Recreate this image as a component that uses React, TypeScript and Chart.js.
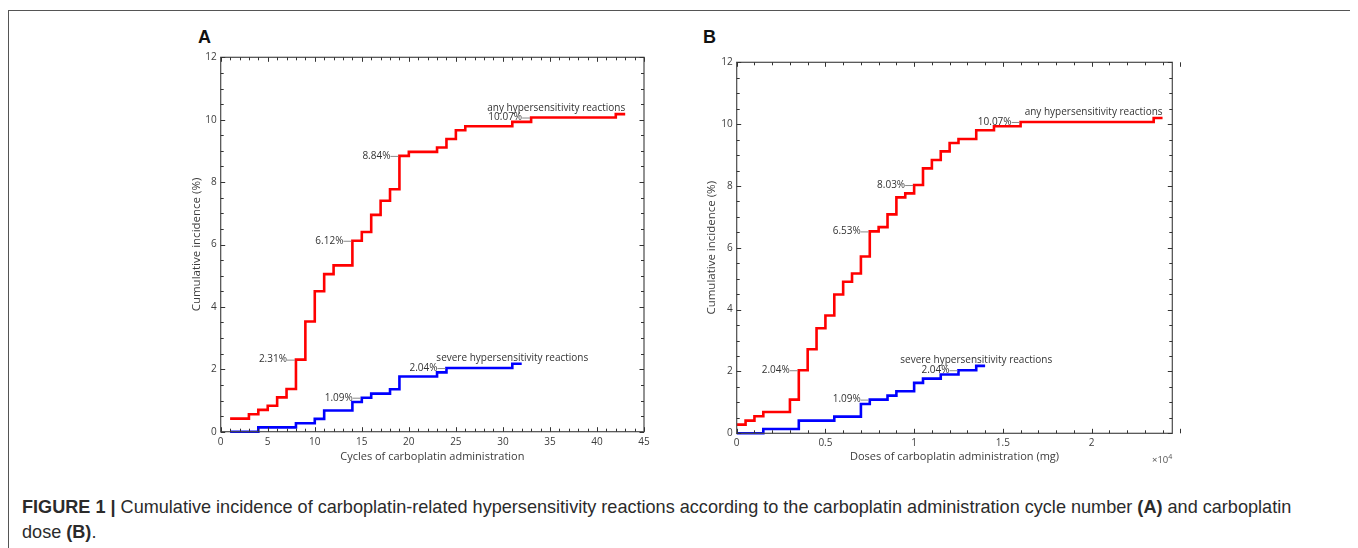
import React, { useEffect, useRef } from 'react';
import { Chart, registerables } from 'chart.js';

Chart.register(...registerables);
Chart.defaults.font.family = '"Open Sans", "DejaVu Sans", sans-serif';

// ---------- Panel A: by cycle number ----------
const cyclesAny = [1, 3, 4, 5, 6, 7, 8, 9, 10, 11, 12, 14, 15, 16, 17, 18, 19, 20, 23, 24, 25, 26, 31, 33, 42, 43];
const incidenceAnyByCycle = [0.42, 0.56, 0.7, 0.83, 1.1, 1.37, 2.31, 3.53, 4.5, 5.05, 5.33, 6.12, 6.4, 6.95, 7.4, 7.77, 8.84, 8.97, 9.11, 9.38, 9.66, 9.79, 9.93, 10.07, 10.18, 10.18];
const cyclesSevere = [1, 4, 8, 10, 11, 14, 15, 16, 18, 19, 23, 24, 31, 32];
const incidenceSevereByCycle = [0, 0.14, 0.27, 0.41, 0.68, 0.95, 1.09, 1.22, 1.36, 1.77, 1.9, 2.04, 2.18, 2.18];
const calloutsAnyByCycle = [6, 11, 16, 23];
const calloutsSevereByCycle = [6, 11];
const cycleTicks = [0, 5, 10, 15, 20, 25, 30, 35, 40, 45];

// ---------- Panel B: by cumulative dose (mg) ----------
const dosesAny = [0, 500, 1000, 1500, 3000, 3500, 4000, 4500, 5000, 5500, 6000, 6500, 7000, 7500, 8000, 8500, 9000, 9500, 10000, 10500, 11000, 11500, 12000, 12500, 13500, 14500, 16000, 23500, 24000];
const incidenceAnyByDose = [0.28, 0.41, 0.55, 0.69, 1.09, 2.04, 2.72, 3.4, 3.81, 4.49, 4.9, 5.17, 5.72, 6.53, 6.67, 7.08, 7.63, 7.76, 8.03, 8.57, 8.84, 9.12, 9.39, 9.52, 9.8, 9.93, 10.07, 10.2, 10.2];
const dosesSevere = [0, 1500, 3500, 5500, 7000, 7500, 8500, 9000, 10000, 10500, 11500, 12500, 13500, 14000];
const incidenceSevereByDose = [0, 0.14, 0.41, 0.54, 0.95, 1.09, 1.22, 1.36, 1.63, 1.77, 1.9, 2.04, 2.18, 2.18];
const calloutsAnyByDose = [5, 13, 18, 26];
const calloutsSevereByDose = [5, 11];
const doseTicks = [0, 5000, 10000, 15000, 20000];

const incidenceTicks = [0, 2, 4, 6, 8, 10, 12];

const anyLabel = 'any hypersensitivity reactions';
const severeLabel = 'severe hypersensitivity reactions';

const TEXT = '#333';
const FONT = '"Open Sans", "DejaVu Sans", sans-serif';

const boxTicksPlugin = {
  id: 'boxTicks',
  afterDatasetsDraw(chart: any, _args: any, opts: any) {
    const { ctx } = chart;
    const xs = chart.scales.x;
    const ys = chart.scales.y;
    const L = xs.getPixelForValue(xs.min);
    const R = xs.getPixelForValue(xs.max);
    const T = ys.getPixelForValue(ys.max);
    const B = ys.getPixelForValue(ys.min);
    ctx.save();
    ctx.strokeStyle = '#4a4a4a';
    ctx.lineWidth = 1.2;
    ctx.strokeRect(L, T, R - L, B - T);
    ctx.strokeStyle = '#333';
    ctx.lineWidth = 1;
    const isMajor = (v: number, step: number) => Math.abs(v / step - Math.round(v / step)) < 1e-6;
    ctx.beginPath();
    const nx = Math.round((xs.max - xs.min) / opts.xMinor);
    for (let i = 0; i <= nx; i++) {
      const v = xs.min + i * opts.xMinor;
      const len = isMajor(v, opts.xMajor) ? 4.5 : 3;
      const px = Math.round(xs.getPixelForValue(v)) + 0.5;
      ctx.moveTo(px, B); ctx.lineTo(px, B - len);
      ctx.moveTo(px, T); ctx.lineTo(px, T + len);
    }
    const ny = Math.round((ys.max - ys.min) / opts.yMinor);
    for (let i = 0; i <= ny; i++) {
      const v = ys.min + i * opts.yMinor;
      const len = isMajor(v, opts.yMajor) ? 4.5 : 3;
      const py = Math.round(ys.getPixelForValue(v)) + 0.5;
      ctx.moveTo(L, py); ctx.lineTo(L + len, py);
      ctx.moveTo(R, py); ctx.lineTo(R - len, py);
    }
    ctx.stroke();

    // callouts: "value%" text with a short grey leader to the step
    ctx.font = `10px ${FONT}`;
    ctx.textBaseline = 'middle';
    (opts.callouts || []).forEach((c: any) => {
      const d: any = chart.data.datasets[c.ds].data[c.index];
      const px = xs.getPixelForValue(d.x);
      const py = ys.getPixelForValue(d.y);
      const text = d.y.toFixed(2) + '%';
      ctx.fillStyle = TEXT;
      ctx.textAlign = 'right';
      ctx.fillText(text, px - 9, py);
      ctx.strokeStyle = '#8a8a8a';
      ctx.lineWidth = 1;
      ctx.beginPath();
      ctx.moveTo(px - 9, py + 0.5);
      ctx.lineTo(px - 1, py + 0.5);
      ctx.stroke();
    });

    // series labels
    const anyData: any[] = chart.data.datasets[0].data as any[];
    const sevData: any[] = chart.data.datasets[1].data as any[];
    const lastAny = anyData[anyData.length - 1];
    ctx.fillStyle = TEXT;
    ctx.textAlign = 'right';
    ctx.fillText(anyLabel, xs.getPixelForValue(lastAny.x), ys.getPixelForValue(lastAny.y) - 6);
    const lastSev = sevData[sevData.length - 1];
    const prevSev = sevData[sevData.length - 2];
    ctx.textAlign = 'center';
    ctx.fillText(severeLabel, xs.getPixelForValue(prevSev.x), ys.getPixelForValue(lastSev.y) - 5.5);

    if (opts.exponent) {
      ctx.textAlign = 'right';
      ctx.textBaseline = 'alphabetic';
      ctx.fillStyle = '#555';
      ctx.font = `7px ${FONT}`;
      ctx.fillText('4', R, B + 26);
      const w4 = ctx.measureText('4').width;
      ctx.font = `9.5px ${FONT}`;
      ctx.fillText('\u00d710', R - w4, B + 30);
    }
    ctx.restore();
  },
};

interface PanelCfg {
  anyX: number[]; anyY: number[]; sevX: number[]; sevY: number[];
  anyCallouts: number[]; sevCallouts: number[];
  xTicks: number[]; xMax: number; xMinor: number; xMajor: number;
  xTitle: string; xFmt: (v: number) => string;
  width: number; height: number;
  padTop: number; padRight: number; yAxisW: number; xAxisH: number;
  yTitlePad: number; xTitlePad: number; exponent: boolean;
}

function Panel({ cfg, left, top }: { cfg: PanelCfg; left: number; top: number }) {
  const ref = useRef<HTMLCanvasElement | null>(null);
  useEffect(() => {
    const chart = new Chart(ref.current as HTMLCanvasElement, {
      type: 'line',
      data: {
        datasets: [
          {
            data: cfg.anyX.map((x, i) => ({ x, y: cfg.anyY[i] })),
            borderColor: '#ff0000', borderWidth: 2.6, stepped: true, pointRadius: 0, fill: false, clip: false as any,
          },
          {
            data: cfg.sevX.map((x, i) => ({ x, y: cfg.sevY[i] })),
            borderColor: '#0000ff', borderWidth: 2.6, stepped: true, pointRadius: 0, fill: false, clip: false as any,
          },
        ],
      },
      options: {
        animation: false,
        responsive: false,
        layout: { padding: { top: cfg.padTop, right: cfg.padRight, left: 0, bottom: 0 } },
        plugins: {
          legend: { display: false },
          tooltip: { enabled: false },
          boxTicks: {
            xMinor: cfg.xMinor, xMajor: cfg.xMajor, yMinor: 0.5, yMajor: 2,
            exponent: cfg.exponent,
            callouts: [
              ...cfg.anyCallouts.map((index) => ({ ds: 0, index })),
              ...cfg.sevCallouts.map((index) => ({ ds: 1, index })),
            ],
          },
        } as any,
        scales: {
          x: {
            type: 'linear', min: 0, max: cfg.xMax,
            afterBuildTicks: (s: any) => { s.ticks = cfg.xTicks.map((v) => ({ value: v })); },
            afterFit: (s: any) => { s.height = cfg.xAxisH; },
            grid: { display: false, drawTicks: false },
            border: { display: false },
            ticks: { padding: 4, color: '#3c3c3c', font: { size: 10 }, maxRotation: 0, autoSkip: false, callback: (v: any) => cfg.xFmt(Number(v)) },
            title: { display: true, text: cfg.xTitle, color: '#3c3c3c', font: { size: 11 }, padding: { top: 0, bottom: cfg.xTitlePad } },
          },
          y: {
            type: 'linear', min: 0, max: 12,
            afterBuildTicks: (s: any) => { s.ticks = incidenceTicks.map((v) => ({ value: v })); },
            afterFit: (s: any) => { s.width = cfg.yAxisW; },
            grid: { display: false, drawTicks: false },
            border: { display: false },
            ticks: { padding: 4, color: '#3c3c3c', font: { size: 10 }, autoSkip: false },
            title: { display: true, text: 'Cumulative incidence (%)', color: '#3c3c3c', font: { size: 11.5 }, padding: { top: cfg.yTitlePad, bottom: 0 } },
          },
        },
      } as any,
      plugins: [boxTicksPlugin],
    });
    return () => chart.destroy();
  }, []);
  return (
    <div style={{ position: 'absolute', left, top, width: cfg.width, height: cfg.height }}>
      <canvas ref={ref} width={cfg.width} height={cfg.height} style={{ width: cfg.width, height: cfg.height, display: 'block' }} />
    </div>
  );
}

const panelA: PanelCfg = {
  anyX: cyclesAny, anyY: incidenceAnyByCycle, sevX: cyclesSevere, sevY: incidenceSevereByCycle,
  anyCallouts: calloutsAnyByCycle, sevCallouts: calloutsSevereByCycle,
  xTicks: cycleTicks, xMax: 45, xMinor: 1, xMajor: 5,
  xTitle: 'Cycles of carboplatin administration', xFmt: (v) => String(v),
  width: 500, height: 430, padTop: 12.3, padRight: 16, yAxisW: 60.7, xAxisH: 43.3,
  yTitlePad: 29.8, xTitlePad: 11.7, exponent: false,
};

const panelB: PanelCfg = {
  anyX: dosesAny, anyY: incidenceAnyByDose, sevX: dosesSevere, sevY: incidenceSevereByDose,
  anyCallouts: calloutsAnyByDose, sevCallouts: calloutsSevereByDose,
  xTicks: doseTicks, xMax: 24550, xMinor: 1000, xMajor: 5000,
  xTitle: 'Doses of carboplatin administration (mg)', xFmt: (v) => String(v / 10000),
  width: 510, height: 430, padTop: 17.3, padRight: 17.7, yAxisW: 56.7, xAxisH: 41.7,
  yTitlePad: 24.8, xTitlePad: 11.2, exponent: true,
};

export default function App() {
  useEffect(() => {
    document.documentElement.style.overflow = 'hidden';
    document.body.style.overflow = 'hidden';
  }, []);
  const letter: React.CSSProperties = {
    position: 'absolute', fontFamily: '"Liberation Sans", Arial, sans-serif', fontWeight: 'bold',
    fontSize: 18, lineHeight: '18px', color: '#111',
  };
  const caption: React.CSSProperties = {
    position: 'absolute', left: 14, top: 487, width: 1320,
    fontFamily: '"Liberation Sans", Arial, sans-serif', fontSize: 18.1, lineHeight: '25px', color: '#2b2b2b',
    whiteSpace: 'nowrap',
  };
  return (
    <div style={{ position: 'relative', width: 1342, height: 540 }}>
      <div style={{ position: 'absolute', left: 0, top: 2, width: 1345, height: 560, border: '1px solid #555', borderBottom: 'none' }} />
      <div style={{ ...letter, left: 190, top: 19.7 }}>A</div>
      <div style={{ ...letter, left: 695, top: 19.7 }}>B</div>
      <Panel cfg={panelA} left={152} top={37} />
      <Panel cfg={panelB} left={672} top={37} />
      <div style={caption}>
        <b>FIGURE 1 |</b> Cumulative incidence of carboplatin-related hypersensitivity reactions according to the carboplatin administration cycle number <b>(A)</b> and carboplatin
        <br />
        dose <b>(B)</b>.
      </div>
    </div>
  );
}
